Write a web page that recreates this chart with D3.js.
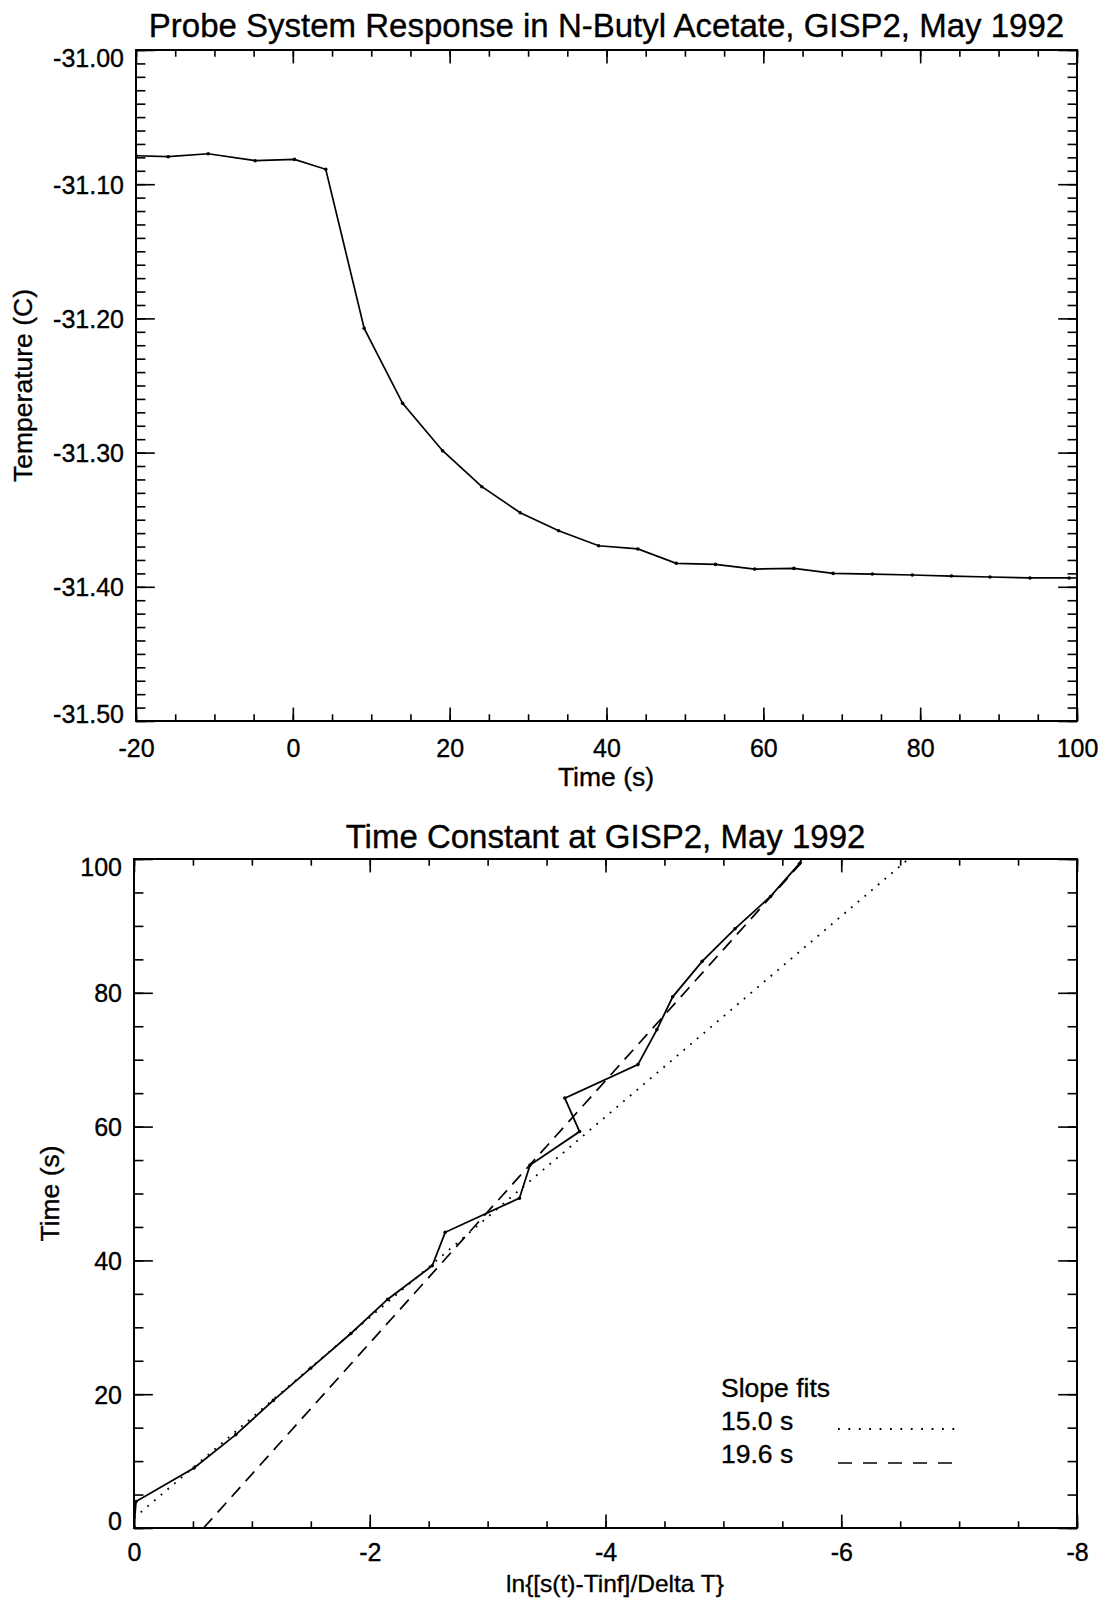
<!DOCTYPE html>
<html>
<head>
<meta charset="utf-8">
<script src="https://cdn.jsdelivr.net/npm/d3@7"></script>
<style>
  html, body { margin: 0; padding: 0; background: #fff; }
  svg { display: block; }
  text { font-family: "Liberation Sans", Arial, Helvetica, sans-serif; fill: #000; stroke: #000; stroke-width: 0.35; }
</style>
</head>
<body>
<svg id="chart" width="1112" height="1598"></svg>
<script>
// ---------- DATA ----------
// Top panel: probe response (time in s, temperature in C)
const responseTime = [-20, -15.9, -10.8, -4.8, 0.2, 4.2, 9.1, 14.0, 19.1, 24.1, 29.0, 33.9, 39.0, 44.0, 48.9, 53.9, 58.9, 63.9, 68.9, 73.9, 79.0, 84.0, 88.9, 94.0, 99.0, 104.0];
const responseTemp = [-31.0788, -31.0795, -31.0773, -31.0825, -31.0815, -31.0889, -31.2074, -31.2633, -31.2986, -31.3254, -31.3448, -31.3582, -31.3694, -31.3718, -31.3825, -31.3833, -31.3868, -31.3863, -31.3900, -31.3905, -31.3912, -31.3920, -31.3927, -31.3934, -31.3934, -31.3936];

// Bottom panel: ln{[s(t)-Tinf]/Delta T} vs time
const lnRatio  = [0.0, -0.017, -0.509, -0.864, -1.182, -1.50, -1.84, -2.153, -2.53, -2.64, -3.27, -3.36, -3.78, -3.655, -4.275, -4.436, -4.57, -4.82, -5.10, -5.40, -5.645, -5.78];
const lnTime   = [0.2, 3.95, 8.96, 13.96, 19.07, 23.9, 29.08, 34.2, 39.2, 44.2, 49.3, 54.25, 59.26, 64.26, 69.27, 74.5, 79.4, 84.7, 89.6, 94.4, 99.3, 104.3];

// Slope fits (end points of fitted lines)
const fit15Ln   = [0.0, -6.57];
const fit15Time = [1.5, 100];
const fit196Ln   = [-0.59, -5.69];
const fit196Time = [0, 100];

const legendLabels = ["Slope fits", "15.0 s", "19.6 s"];

// Tick values
const topXMajor = [-20, 0, 20, 40, 60, 80, 100];
const topXMinor = d3.range(-20, 100.001, 5);
const topYMajor = [-31.5, -31.4, -31.3, -31.2, -31.1, -31.0];
const topYMinor = d3.range(0, 51).map(i => -31.5 + i * 0.01);
const botXMajor = [0, -2, -4, -6, -8];
const botXMinor = d3.range(0, 17).map(i => -i * 0.5);
const botYMajor = [0, 20, 40, 60, 80, 100];
const botYMinor = d3.range(0, 101, 5);

// ---------- DRAWING ----------
const svg = d3.select("#chart");
const TICKFONT = 25;
const LABELFONT = 26.5;
const TITLEFONT = 33;

function panel(cfg) {
  const x = d3.scaleLinear().domain(cfg.xDomain).range([cfg.left, cfg.right]);
  const y = d3.scaleLinear().domain(cfg.yDomain).range([cfg.bottom, cfg.top]);
  const w = cfg.right - cfg.left, h = cfg.bottom - cfg.top;
  const xLen = 0.02 * h, yLen = 0.02 * w;
  const g = svg.append("g");

  function addAxis(gen, tr, vals, len, fmt) {
    const a = g.append("g").attr("transform", tr)
      .call(gen.tickValues(vals).tickSizeInner(-len).tickSizeOuter(0).tickFormat(fmt));
    a.select(".domain").remove();
    a.selectAll(".tick line").attr("stroke", "#000").attr("stroke-width", 1.6);
    return a;
  }
  // minor
  addAxis(d3.axisBottom(x), `translate(0,${cfg.bottom})`, cfg.xMinor, xLen / 2, () => "");
  addAxis(d3.axisTop(x), `translate(0,${cfg.top})`, cfg.xMinor, xLen / 2, () => "");
  addAxis(d3.axisLeft(y), `translate(${cfg.left},0)`, cfg.yMinor, yLen / 2, () => "");
  addAxis(d3.axisRight(y), `translate(${cfg.right},0)`, cfg.yMinor, yLen / 2, () => "");
  // major
  const bx = addAxis(d3.axisBottom(x), `translate(0,${cfg.bottom})`, cfg.xMajor, xLen, cfg.xFmt);
  addAxis(d3.axisTop(x), `translate(0,${cfg.top})`, cfg.xMajor, xLen, () => "");
  const ly = addAxis(d3.axisLeft(y), `translate(${cfg.left},0)`, cfg.yMajor, yLen, cfg.yFmt);
  addAxis(d3.axisRight(y), `translate(${cfg.right},0)`, cfg.yMajor, yLen, () => "");

  bx.selectAll(".tick text").attr("y", cfg.xTickLabelOffset).attr("dy", "0.36em")
    .attr("font-size", TICKFONT).attr("fill", "#000");
  ly.selectAll(".tick text").attr("x", -12).attr("dy", "0.36em")
    .attr("font-size", TICKFONT).attr("fill", "#000")
    .attr("transform", d => d === cfg.yDomain[1] ? "translate(0,7.5)" : (d === cfg.yDomain[0] ? "translate(0,-7.5)" : null));
  g.selectAll(".tick text").attr("font-family", "Liberation Sans, Arial, sans-serif");

  // frame
  g.append("rect").attr("x", cfg.left).attr("y", cfg.top).attr("width", w).attr("height", h)
    .attr("fill", "none").attr("stroke", "#000").attr("stroke-width", 2);

  // clip
  const cid = "clip" + cfg.id;
  svg.append("clipPath").attr("id", cid).append("rect")
    .attr("x", cfg.left).attr("y", cfg.top).attr("width", w).attr("height", h);

  // titles
  g.append("text").attr("x", (cfg.left + cfg.right) / 2).attr("y", cfg.titleY)
    .attr("text-anchor", "middle").attr("dy", "0.36em").attr("font-size", TITLEFONT).text(cfg.title);
  g.append("text").attr("x", cfg.xLabelX).attr("y", cfg.xLabelY)
    .attr("text-anchor", "middle").attr("dy", "0.36em").attr("font-size", cfg.xLabelFont).text(cfg.xLabel);
  g.append("text").attr("transform", `translate(${cfg.yLabelX},${(cfg.top + cfg.bottom) / 2}) rotate(-90)`)
    .attr("text-anchor", "middle").attr("dy", "0.36em").attr("font-size", LABELFONT).text(cfg.yLabel);

  return { x, y, g, cid };
}

// ---- Top panel ----
const fmt2 = d => d.toFixed(2);
const P1 = panel({
  id: 1, left: 136, right: 1077, top: 50, bottom: 721,
  xDomain: [-20, 100], yDomain: [-31.5, -31.0],
  xMajor: topXMajor, xMinor: topXMinor, yMajor: topYMajor, yMinor: topYMinor,
  xFmt: d => String(d), yFmt: fmt2, xTickLabelOffset: 27,
  title: "Probe System Response in N-Butyl Acetate, GISP2, May 1992", titleY: 25,
  xLabel: "Time (s)", xLabelX: 606, xLabelY: 776, xLabelFont: LABELFONT,
  yLabel: "Temperature (C)", yLabelX: 22
});
const resp = responseTime.map((t, i) => [t, responseTemp[i]]);
const line1 = d3.line().x(d => P1.x(d[0])).y(d => P1.y(d[1]));
P1.g.append("path").datum(resp).attr("d", line1).attr("fill", "none")
  .attr("stroke", "#000").attr("stroke-width", 1.7).attr("clip-path", `url(#${P1.cid})`);
P1.g.append("g").attr("clip-path", `url(#${P1.cid})`).selectAll("circle").data(resp).join("circle")
  .attr("cx", d => P1.x(d[0])).attr("cy", d => P1.y(d[1])).attr("r", 1.8).attr("fill", "#000");

// ---- Bottom panel ----
const P2 = panel({
  id: 2, left: 134, right: 1077, top: 859, bottom: 1528,
  xDomain: [0, -8], yDomain: [0, 100],
  xMajor: botXMajor, xMinor: botXMinor, yMajor: botYMajor, yMinor: botYMinor,
  xFmt: d => String(d), yFmt: d => String(d), xTickLabelOffset: 24,
  title: "Time Constant at GISP2, May 1992", titleY: 836,
  xLabel: "ln{[s(t)-Tinf]/Delta T}", xLabelX: 615, xLabelY: 1583, xLabelFont: 24.5,
  yLabel: "Time (s)", yLabelX: 49
});
const lnPts = lnRatio.map((l, i) => [l, lnTime[i]]);
const line2 = d3.line().x(d => P2.x(d[0])).y(d => P2.y(d[1]));
P2.g.append("path").datum(fit15Ln.map((l, i) => [l, fit15Time[i]])).attr("d", line2)
  .attr("fill", "none").attr("stroke", "#000").attr("stroke-width", 1.8)
  .attr("stroke-dasharray", "1.8,7").attr("clip-path", `url(#${P2.cid})`);
P2.g.append("path").datum(fit196Ln.map((l, i) => [l, fit196Time[i]])).attr("d", line2)
  .attr("fill", "none").attr("stroke", "#000").attr("stroke-width", 1.7)
  .attr("stroke-dasharray", "13,8").attr("clip-path", `url(#${P2.cid})`);
P2.g.append("path").datum(lnPts).attr("d", line2).attr("fill", "none")
  .attr("stroke", "#000").attr("stroke-width", 1.8).attr("clip-path", `url(#${P2.cid})`);
P2.g.append("g").attr("clip-path", `url(#${P2.cid})`).selectAll("circle").data(lnPts).join("circle")
  .attr("cx", d => P2.x(d[0])).attr("cy", d => P2.y(d[1])).attr("r", 1.8).attr("fill", "#000");

// legend
const lg = P2.g.append("g");
const legY = [1387, 1420, 1453];
legendLabels.forEach((t, i) => {
  lg.append("text").attr("x", 721).attr("y", legY[i]).attr("dy", "0.36em")
    .attr("font-size", LABELFONT).text(t);
});
lg.append("line").attr("x1", 838).attr("x2", 958).attr("y1", 1429).attr("y2", 1429)
  .attr("stroke", "#000").attr("stroke-width", 1.8).attr("stroke-dasharray", "1.8,8.6");
lg.append("line").attr("x1", 838).attr("x2", 954).attr("y1", 1463).attr("y2", 1463)
  .attr("stroke", "#000").attr("stroke-width", 1.7).attr("stroke-dasharray", "14,11");
</script>
</body>
</html>
